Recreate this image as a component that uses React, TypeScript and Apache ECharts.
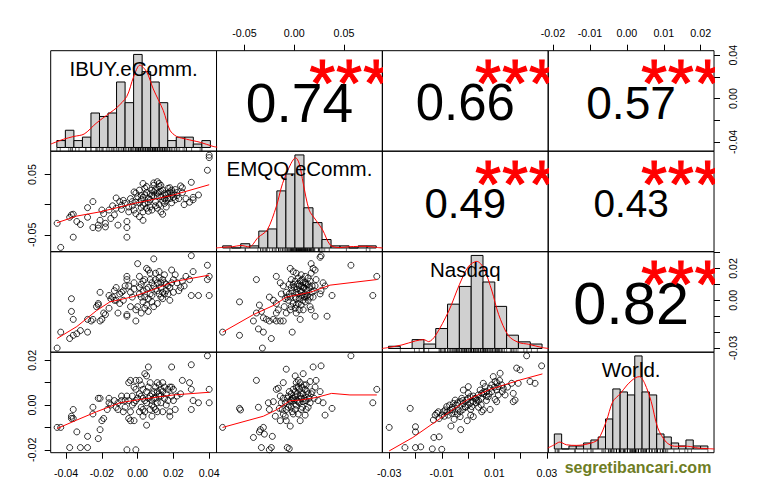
import React, { useEffect, useRef } from 'react';
import * as echarts from 'echarts';

const FONT = "'Liberation Sans', Arial, Helvetica, sans-serif";

// variable names (diagonal)
const varNames = ['IBUY.eComm.', 'EMQQ.eComm.', 'Nasdaq', 'World.'];

// axis extents of each variable (data range + 4%)
const rangeIBUY = [-0.0486, 0.0441];
const rangeEMQQ = [-0.0781, 0.0886];
const rangeNasdaq = [-0.0326, 0.0305];
const rangeWorld = [-0.0213, 0.0236];

// tick positions
const ticksIBUY = [-0.04, -0.02, 0, 0.02, 0.04];
const ticksEMQQ = [-0.05, 0, 0.05];
const ticksNasdaq = [-0.03, -0.02, -0.01, 0, 0.01, 0.02, 0.03];
const ticksWorld = [-0.02, -0.01, 0, 0.01, 0.02];

// tick labels shown on the outer axes
const labelsBottomIBUY = [-0.04, -0.02, 0, 0.02, 0.04];
const labelsBottomNasdaq = [-0.03, -0.01, 0.01, 0.03];
const labelsTopEMQQ = [-0.05, 0, 0.05];
const labelsTopWorld = [-0.02, -0.01, 0, 0.01, 0.02];
const labelsLeftEMQQ = [-0.05, 0.05];
const labelsLeftWorld = [-0.02, 0, 0.02];
const labelsRightIBUY = [-0.04, 0, 0.04];
const labelsRightNasdaq = [-0.03, 0, 0.02];

// histograms: first break, bin width, counts
const histStartIBUY = -0.045, histWidthIBUY = 0.005;
const histIBUY = [2, 5, 2, 3, 10, 9, 10, 19, 13, 27, 22, 19, 13, 2, 3, 3, 1, 2];
const histStartEMQQ = -0.08, histWidthEMQQ = 0.01;
const histEMQQ = [1, 0, 2, 1, 8, 9, 27, 35, 44, 19, 12, 4, 1, 1, 0, 1, 1];
const histStartNasdaq = -0.035, histWidthNasdaq = 0.005;
const histNasdaq = [1, 0, 4, 2, 9, 20, 28, 42, 30, 19, 6, 3, 2];
const histStartWorld = -0.02, histWidthWorld = 0.002;
const histWorld = [5, 0, 1, 1, 2, 3, 4, 10, 20, 19, 18, 31, 19, 18, 5, 4, 2, 1, 3, 1, 1];

// density curves (in histogram count units)
const densIBUY = [[-0.0485, 1.0], [-0.041, 2.4], [-0.035, 3.2], [-0.029, 3.9], [-0.022, 7.0], [-0.014, 10.0], [-0.01, 11.5], [-0.004, 14.8], [0.0, 20.5], [0.0037, 23.9], [0.0077, 21.9], [0.0115, 17.0], [0.0174, 10.7], [0.0213, 5.0], [0.0252, 3.2], [0.031, 2.4], [0.039, 1.5], [0.0466, 0.3], [0.049, 0.1]];
const densEMQQ = [[-0.0875, 0], [-0.08, 0.3], [-0.069, 0.6], [-0.0598, 1.2], [-0.0506, 0.5], [-0.0407, 5], [-0.0307, 8.5], [-0.0207, 19.5], [-0.0137, 30.5], [-0.0044, 39.9], [0.0007, 42.7], [0.0048, 39.9], [0.0092, 30.5], [0.0158, 17.9], [0.0233, 13.1], [0.0307, 8.5], [0.0391, 1.4], [0.0491, 0.2], [0.0602, 0.6], [0.0787, 0.8], [0.089, 0.3], [0.0972, 0]];
const densNasdaq = [[-0.0377, 0], [-0.035, 0.45], [-0.0293, 1.6], [-0.0236, 3.4], [-0.0201, 4.0], [-0.018, 3.1], [-0.0152, 5.7], [-0.0095, 16.9], [-0.005, 28.8], [-0.0011, 37.1], [0.0024, 39.3], [0.0053, 36.3], [0.0088, 25.9], [0.0116, 15.4], [0.0158, 5.7], [0.0201, 2.7], [0.0243, 1.9], [0.0299, 0.45], [0.0327, 0]];
const densWorld = [[-0.0218, 0.3], [-0.02, 1.4], [-0.0185, 2.3], [-0.0167, 1.4], [-0.014, 1.2], [-0.0108, 1.7], [-0.0081, 3.1], [-0.0058, 9.2], [-0.004, 15.8], [-0.0019, 18.5], [-0.0001, 21.3], [0.0021, 23.7], [0.0033, 24.1], [0.0047, 21.9], [0.0065, 15.8], [0.0083, 7.0], [0.0106, 2.3], [0.0129, 0.9], [0.0165, 0.9], [0.0193, 0.3], [0.022, 0.1], [0.0238, 0]];

// correlations and significance
const corrValues = [0.74, 0.66, 0.57, 0.49, 0.43, 0.82];
const corrStars = ['***', '***', '***', '***', '***', '***'];

// scatter panels [x, y]
const ibuyEmqq = [[0.040,0.082],[0.040,0.078],[0.039,0.057],[0.030,0.037],[0.024,0.031],[0.025,0.028],[0.034,0.016],[0.031,0.012],[0.029,0.004],[0.031,0.008],
[-0.045,-0.031],[-0.043,-0.071],[-0.036,-0.054],[-0.034,-0.028],[-0.032,-0.033],[-0.038,-0.021],[-0.037,-0.017],[-0.036,-0.016],[-0.028,-0.021],[-0.028,-0.005],[-0.025,0.005],[-0.025,-0.038],[-0.022,-0.039],[-0.022,-0.034],[-0.021,-0.026],[-0.020,-0.009],[-0.019,-0.015],[-0.018,-0.031],[-0.018,-0.037],[-0.016,-0.009],[-0.015,-0.023],[-0.013,-0.017],[-0.012,0.011],[-0.011,-0.034],[-0.010,0.005],[-0.009,-0.001],[-0.008,0.007],[-0.006,-0.038],[-0.006,-0.054],[-0.006,-0.028],[-0.005,-0.004],
[-0.002,0.021],[-0.001,0.019],[0.000,0.013],[0.001,0.024],[0.002,0.008],[0.003,-0.001],[0.004,0.016],[0.005,0.030],[0.006,0.010],[0.007,-0.004],[0.008,0.024],[0.009,0.032],[0.010,0.005],[0.011,0.019],[0.012,0.030],[0.013,0.013],[0.013,0.032],[0.014,0.024],[0.015,0.002],[0.016,0.016],[0.017,0.027],[0.018,0.021],[0.019,0.024],[0.020,0.019],[-0.002,-0.009],[-0.001,-0.015],[0.001,-0.020],[0.003,-0.012],[0.005,-0.006],[0.008,-0.009],[0.011,-0.006],[0.013,-0.012],[0.014,-0.016],[0.016,-0.004],[0.003,-0.026],[-0.003,0.005],[-0.004,0.010],[-0.005,-0.012],[0.011,0.038],[0.012,0.035],[0.009,0.036],[0.003,0.035],[0.020,0.012],[0.021,0.008],[0.022,0.020],[0.018,0.010],[0.006,0.004],[0.004,0.002],[0.009,0.014],[0.007,0.018],[0.022,0.015],[0.025,0.020],[0.027,0.010],[0.026,0.000],[0.016,0.007],[0.019,0.003],[0.010,0.025],[0.002,0.015],[-0.001,0.004],[0.012,0.021],[0.015,0.010],[0.017,0.019],
[0.001,0.003],[0.003,0.012],[0.005,0.020],[0.007,0.008],[0.009,0.021],[0.011,0.014],[0.013,0.022],[0.015,0.018],[0.017,0.011],[0.019,0.016],[0.002,-0.005],[0.006,-0.011],[0.010,-0.002],[0.014,0.006],[0.018,0.028],[0.021,0.025],[0.023,0.010],[-0.003,-0.002],[-0.007,0.002],[-0.009,-0.008],[-0.012,-0.006],[-0.014,-0.002],[0.004,0.027],[0.008,0.015],[0.012,0.000]];

const ibuyNasdaq = [[-0.045,-0.030],[-0.043,-0.020],[-0.038,-0.024],[-0.036,-0.022],[-0.034,-0.021],[-0.032,-0.019],[-0.028,-0.020],[-0.037,0.001],[-0.037,-0.007],[-0.036,-0.012],[-0.028,-0.012],[-0.026,-0.013],[-0.022,-0.002],[-0.022,-0.003],[-0.023,-0.004],[-0.025,-0.012],[-0.021,-0.013],[-0.020,-0.012],[-0.019,-0.008],[-0.018,-0.009],[-0.021,0.005],
[-0.016,0.003],[-0.015,0.001],[-0.014,0.002],[-0.013,0.000],[-0.012,0.000],[-0.010,0.004],[-0.009,0.005],[-0.008,0.000],[-0.007,0.009],[-0.006,0.015],[-0.006,0.013],[-0.005,0.009],[-0.006,-0.009],[-0.006,-0.010],[-0.001,-0.013],[-0.001,-0.006],[0.000,-0.004],[0.000,0.023],[0.001,0.004],[0.003,0.006],[0.004,0.013],[0.005,0.020],[0.006,0.019],[0.007,0.017],[0.009,0.026],[0.010,0.017],[0.011,0.011],[0.012,0.004],[0.013,0.002],[0.013,0.008],[0.014,0.013],[0.015,0.011],[0.016,0.006],[0.017,0.004],[0.018,0.000],[0.019,0.019],[0.020,0.013],[0.022,0.011],[0.024,0.008],[0.025,0.012],[0.027,0.015],[0.029,0.013],[0.030,0.028],[0.031,0.018],[0.030,0.003],[0.034,0.003],[0.039,0.022],[0.040,0.015],[0.040,0.003],[0.039,0.013],
[0.002,0.010],[0.004,0.002],[0.006,0.008],[0.008,0.011],[0.008,0.003],[0.010,0.007],[0.011,-0.002],[0.012,0.014],[0.014,0.005],[0.016,0.010],[0.003,-0.001],[0.005,-0.003],[-0.002,0.007],[-0.003,0.002],[0.001,0.015],[0.007,0.013],[0.009,-0.004],[0.015,0.016],[0.018,0.008],[0.020,0.005],[-0.004,-0.004],[0.002,-0.008],[0.006,-0.007],[-0.011,-0.008],[-0.013,0.006],[-0.016,-0.005],
[0.001,0.008],[0.003,0.012],[0.005,0.007],[0.007,0.004],[0.009,0.009],[0.011,0.006],[0.013,0.011],[0.015,0.004],[0.017,0.009],[0.019,0.011],[0.002,0.002],[0.004,-0.005],[0.006,0.001],[0.008,-0.001],[0.010,0.013],[0.012,0.018],[0.014,0.001],[-0.002,0.011],[-0.004,0.005],[-0.008,0.006],[-0.010,-0.002],[-0.012,0.008],[0.021,0.016],[0.023,0.006],[0.026,0.009]];

const emqqNasdaq = [[-0.072,-0.020],[-0.055,-0.001],[-0.055,-0.022],[-0.038,0.013],[-0.041,-0.013],[-0.036,-0.018],[-0.031,-0.020],[-0.023,-0.024],[-0.032,-0.030],[-0.035,-0.003],[-0.033,-0.007],[-0.038,-0.008],[-0.031,-0.011],[-0.028,-0.012],[-0.025,-0.013],[-0.021,-0.012],[-0.018,-0.013],[-0.014,-0.013],[-0.011,-0.013],[-0.018,-0.008],[-0.016,-0.006],[-0.008,-0.008],[-0.006,0.000],[-0.004,0.002],[-0.003,-0.004],[-0.001,-0.002],[0.001,0.002],[0.002,0.005],[0.004,0.004],[0.006,0.006],[0.007,0.009],[0.009,0.011],[0.011,0.004],[0.012,0.002],[0.014,0.000],[0.016,-0.004],[0.017,-0.006],[0.019,0.002],[0.021,0.009],[0.022,0.013],[0.026,0.004],[0.027,0.006],[0.029,0.011],[0.031,0.009],[0.017,0.023],[0.019,0.020],[0.021,0.019],[0.026,0.027],[0.027,0.028],[0.017,0.017],[-0.004,0.020],[-0.001,0.018],[0.002,0.017],[0.007,0.016],[0.011,0.015],[0.014,0.014],[-0.018,0.015],[-0.014,0.011],[-0.011,0.009],[-0.008,0.005],[-0.002,-0.020],[0.002,-0.008],[0.006,-0.012],[0.009,-0.006],[0.021,-0.010],[0.033,-0.010],[0.038,0.003],[0.057,0.022],[0.079,0.003],[0.083,0.015],[-0.025,0.002],[-0.021,0.000],[-0.018,-0.002],
[0.000,0.008],[0.003,0.010],[0.005,0.001],[0.008,0.003],[0.010,0.008],[0.013,0.006],[0.004,-0.002],[-0.002,0.006],[0.006,0.012],[0.012,0.010],[0.001,-0.005],[-0.005,0.010],[0.015,0.008],[0.018,0.005],[0.009,0.000],[-0.003,0.013],[0.002,0.001],[0.007,-0.003],[0.011,-0.001],[0.016,0.012],
[-0.001,0.010],[0.001,0.012],[0.003,0.007],[0.005,0.009],[0.007,0.005],[0.009,0.008],[0.011,0.011],[0.013,0.003],[-0.003,0.008],[-0.005,0.004],[-0.007,0.002],[-0.009,0.001],[0.004,0.014],[0.008,0.013],[0.010,0.002],[0.012,0.007],[0.014,0.010],[0.016,0.002],[0.018,0.009],[0.020,0.006],[0.002,-0.003],[-0.004,-0.006],[-0.010,-0.004],[-0.013,0.004],[0.005,-0.006]];

const ibuyWorld = [[-0.045,-0.010],[-0.043,-0.010],[-0.038,-0.019],[-0.032,-0.019],[-0.028,-0.019],[-0.006,-0.020],[-0.001,-0.020],[-0.037,-0.005],[-0.037,-0.006],[-0.036,-0.006],[-0.036,-0.002],[-0.034,-0.012],[-0.028,-0.014],[-0.025,-0.001],[-0.025,-0.004],[-0.022,0.003],[-0.021,0.003],[-0.021,-0.011],[-0.022,-0.015],
[-0.020,-0.007],[-0.019,-0.006],[-0.017,-0.002],[-0.016,0.001],[-0.016,0.003],[-0.013,0.002],[-0.012,-0.001],[-0.011,-0.002],[-0.009,0.002],[-0.007,0.002],[-0.006,0.004],[-0.005,-0.006],[-0.004,-0.003],[-0.002,0.001],[-0.002,-0.007],[-0.005,0.010],[-0.004,0.011],[-0.002,0.008],[-0.001,0.007],[-0.001,0.011],[0.001,0.011],[0.002,0.009],[0.003,0.007],[0.004,0.014],[0.005,0.013],[0.006,0.017],[0.007,0.010],[0.008,0.005],[0.009,0.006],[0.010,0.008],[0.011,0.010],[0.012,0.004],[0.012,0.005],[0.013,0.007],[0.014,0.006],[0.015,0.003],[0.016,0.005],[0.017,0.007],[0.018,0.008],[0.019,0.008],[0.020,0.007],[0.021,-0.002],[0.018,-0.003],[0.018,-0.005],[0.005,-0.009],[0.001,-0.003],[0.003,-0.005],[0.009,-0.001],[0.011,0.001],[0.025,0.011],[0.024,0.005],[0.019,0.017],[0.030,0.018],[0.029,0.010],[0.030,0.007],[0.031,0.002],[0.030,-0.002],[0.034,0.001],[0.039,0.022],[0.040,0.007],[0.040,0.001],[0.014,-0.003],[0.011,-0.003],[0.008,-0.005],[-0.004,-0.007],[-0.008,-0.003],[-0.015,0.000],
[0.002,0.004],[0.004,0.002],[0.006,0.003],[0.008,0.000],[0.010,0.003],[0.003,-0.002],[0.000,0.003],[0.005,0.006],[0.013,0.001],[0.016,0.000],[0.007,-0.002],[-0.003,0.004],
[0.001,0.005],[0.003,0.003],[0.005,0.001],[0.007,0.004],[0.009,0.003],[0.011,0.006],[0.013,0.004],[0.015,0.008],[0.017,0.002],[0.019,0.004],[0.002,-0.001],[0.004,-0.003],[0.006,0.008],[0.008,0.002],[0.010,-0.002],[0.012,0.009],[-0.001,0.002],[-0.003,0.000],[-0.005,0.002],[-0.007,-0.001],[-0.009,0.004],[-0.011,0.001],[0.014,0.010],[0.020,0.002],[0.022,0.004]];

const emqqWorld = [[-0.072,-0.010],[-0.055,-0.0015],[-0.054,-0.0022],[-0.038,0.011],[-0.041,-0.0145],[-0.034,-0.011],[-0.031,-0.010],[-0.035,-0.012],[-0.030,-0.013],[-0.033,-0.019],[-0.022,-0.014],[-0.023,-0.019],[-0.025,-0.020],[-0.007,-0.019],[-0.005,-0.0195],
[-0.036,-0.001],[-0.026,0.001],[-0.025,-0.002],[-0.018,0.007],[-0.016,0.0075],[-0.008,0.016],[-0.011,0.010],[-0.014,0.004],[-0.013,0.001],[-0.011,-0.004],[-0.009,-0.005],[-0.008,-0.002],[-0.006,-0.001],[-0.004,0.002],[-0.003,0.005],[-0.001,0.007],[0.001,0.013],[0.002,0.010],[0.004,0.008],[0.006,0.004],[0.007,0.005],[0.009,0.014],[0.011,0.007],[0.012,0.002],[0.014,-0.001],[0.016,0.001],[0.017,0.005],[0.019,0.017],[0.021,0.008],[0.022,0.011],[0.024,0.002],[0.026,0.006],[0.027,0.0175],[0.029,0.001],[0.031,-0.0045],[0.038,-0.0015],[0.057,0.022],[0.079,0.001],[0.083,0.007],[-0.014,-0.007],[-0.004,-0.0094],[0.006,-0.007],[-0.001,-0.004],[-0.008,-0.007],[0.002,0.000],[-0.011,0.003],[-0.015,-0.0015],[-0.021,0.0015],[-0.019,-0.005],[0.007,-0.002],[0.011,-0.0045],[0.016,0.0105],[0.001,0.004],[0.004,0.0015],[0.009,0.0015],[0.014,0.005],
[0.000,0.002],[0.003,0.005],[0.005,0.001],[-0.002,0.003],[0.008,0.008],[0.010,0.003],[-0.005,0.006],[0.012,0.009],[0.004,-0.004],[-0.003,-0.001],
[-0.001,0.003],[0.001,0.006],[0.003,0.002],[0.005,0.007],[0.007,0.003],[0.009,0.005],[0.011,0.002],[0.013,0.006],[-0.003,0.002],[-0.005,0.000],[-0.007,0.003],[-0.009,0.001],[0.002,0.008],[0.006,0.010],[0.010,0.009],[0.015,0.003],[0.018,0.006],[0.020,0.003],[-0.002,-0.003],[0.001,-0.002],[0.004,0.011],[0.008,-0.001],[-0.012,-0.002],[0.012,-0.002],[-0.006,0.004]];

const nasdaqWorld = [[-0.030,-0.010],[-0.022,-0.0015],[-0.020,-0.0097],[-0.020,-0.012],[-0.024,-0.019],[-0.020,-0.019],[-0.018,-0.0187],[-0.0136,-0.0196],[-0.010,-0.0198],[-0.013,-0.0145],[-0.011,-0.0142],[-0.0065,-0.0094],[-0.0028,-0.011],
[-0.0132,-0.0067],[-0.0125,-0.0045],[-0.0119,-0.0037],[-0.0113,-0.003],[-0.010,-0.0045],[-0.0094,-0.003],[-0.0087,-0.0022],[-0.0081,-0.0007],[-0.0075,-0.0045],[-0.0068,-0.0022],[-0.0062,-0.0037],[-0.0056,0.0007],[-0.0049,0.0022],[-0.0043,0.000],[-0.0037,-0.0022],[-0.003,0.0015],[-0.0024,0.003],[-0.0018,0.0007],[-0.0011,-0.0007],[-0.0005,0.0022],[0.0001,0.0052],[0.0008,0.0037],[0.0014,-0.0007],[0.002,0.0015],[0.0027,0.003],[0.0033,0.0022],[0.0039,0.0045],[0.0046,0.0067],[0.0052,0.0052],[0.0058,0.0097],[0.0065,0.0082],[0.0071,0.006],[0.0077,0.0037],[0.0084,0.0075],[0.009,0.009],[0.0096,0.0127],[0.0103,0.0105],[0.0109,0.0067],[0.0115,0.0082],[0.0122,0.0142],[0.0128,0.009],[0.0134,0.0075],[0.0141,0.0045],[0.0103,0.0025],[0.0109,0.0015],[0.0115,0.0045],[0.0052,-0.003],[0.0058,-0.0022],[0.0084,-0.002],[0.001,-0.0045],[0.002,-0.0052],[-0.0003,-0.007],[0.0172,0.0052],[0.0179,0.0022],[0.0166,0.0097],[0.0185,0.0165],[0.0198,0.0157],[0.0223,0.022],[0.0236,0.0105],[0.0255,0.0097],[0.028,0.0175],[0.0191,0.0097],[0.0172,0.0015],[-0.0018,0.0067],[0.0001,0.0082],[-0.003,-0.0052],[-0.0053,-0.0064],
[0.000,0.000],[-0.002,-0.002],[0.003,0.001],[0.005,0.003],[0.007,0.002],[-0.004,-0.004],[0.001,-0.002],[0.006,0.005],[-0.006,-0.001],[0.004,-0.001],
[-0.008,-0.003],[-0.006,-0.002],[-0.004,0.001],[-0.002,0.002],[0.000,0.003],[0.002,0.004],[0.004,0.002],[0.006,0.006],[0.008,0.005],[0.010,0.008],[-0.009,-0.005],[-0.005,-0.003],[-0.001,-0.001],[0.003,0.003],[0.007,0.004],[0.009,0.006],[0.011,0.010],[0.013,0.006],[-0.007,0.000],[-0.003,-0.003],[0.001,0.001],[0.005,0.000],[0.012,0.011],[0.015,0.008],[-0.011,-0.006]];

// smoothed (lowess) lines
const lowIbuyEmqq = [[-0.045,-0.030],[-0.034,-0.019],[-0.021,-0.012],[-0.010,-0.004],[-0.002,0.002],[0.011,0.010],[0.020,0.016],[0.040,0.033]];
const lowIbuyNasdaq = [[-0.045,-0.024],[-0.034,-0.0165],[-0.023,-0.0065],[-0.0155,-0.001],[-0.0024,0.0023],[0.0106,0.0075],[0.020,0.0117],[0.040,0.0158]];
const lowEmqqNasdaq = [[-0.072,-0.020],[-0.041,-0.009],[-0.020,-0.003],[-0.008,0.002],[0.000,0.003],[0.016,0.005],[0.036,0.0095],[0.083,0.013]];
const lowIbuyWorld = [[-0.045,-0.0105],[-0.034,-0.0067],[-0.023,-0.003],[-0.0099,0.001],[0.0013,0.0025],[0.020,0.0045],[0.040,0.0057]];
const lowEmqqWorld = [[-0.072,-0.010],[-0.031,-0.005],[-0.018,-0.0022],[-0.0044,0.0019],[0.0057,0.0022],[0.0225,0.0034],[0.0376,0.0052],[0.056,0.0045],[0.083,0.0045]];
const lowNasdaqWorld = [[-0.030,-0.0205],[-0.021,-0.0145],[-0.0106,-0.006],[-0.0005,0.0022],[0.0084,0.007],[0.0198,0.0112],[0.0283,0.0139]];

const watermark = 'segretibancari.com';

// ---------- layout ----------
const L = 50.7, T = 50.7, PW = 165.83, PH = 100.5;

function buildOption() {
  const ranges = [rangeIBUY, rangeEMQQ, rangeNasdaq, rangeWorld];
  const ticks = [ticksIBUY, ticksEMQQ, ticksNasdaq, ticksWorld];
  const hists = [
    { start: histStartIBUY, w: histWidthIBUY, counts: histIBUY, dens: densIBUY },
    { start: histStartEMQQ, w: histWidthEMQQ, counts: histEMQQ, dens: densEMQQ },
    { start: histStartNasdaq, w: histWidthNasdaq, counts: histNasdaq, dens: densNasdaq },
    { start: histStartWorld, w: histWidthWorld, counts: histWorld, dens: densWorld },
  ];
  const scatters: Record<string, any> = {
    '10': [ibuyEmqq, lowIbuyEmqq], '20': [ibuyNasdaq, lowIbuyNasdaq], '21': [emqqNasdaq, lowEmqqNasdaq],
    '30': [ibuyWorld, lowIbuyWorld], '31': [emqqWorld, lowEmqqWorld], '32': [nasdaqWorld, lowNasdaqWorld],
  };
  const rugs = [ibuyEmqq.map(p => p[0]), emqqNasdaq.map(p => p[0]), nasdaqWorld.map(p => p[0]), nasdaqWorld.map(p => p[1])];
  const corrCells = ['01', '02', '03', '12', '13', '23'];
  const bottomLabels: Record<number, number[]> = { 0: labelsBottomIBUY, 2: labelsBottomNasdaq };
  const leftLabels: Record<number, number[]> = { 1: labelsLeftEMQQ, 3: labelsLeftWorld };

  const grids: any[] = [], xAxes: any[] = [], yAxes: any[] = [], series: any[] = [], graphics: any[] = [];

  const hidden = (gridIndex: number, min: number, max: number) => ({ type: 'value', gridIndex, min, max, show: false, axisLine: { show: false, onZero: false }, axisTick: { show: false }, axisLabel: { show: false }, splitLine: { show: false } });
  const visible = (gridIndex: number, range: number[], tk: number[], labels: number[], position: string, rotate: number, margin: number) => ({
    type: 'value', gridIndex, min: range[0], max: range[1], position, show: true,
    axisLine: { show: false, onZero: false },
    axisTick: { show: true, inside: false, length: 6, customValues: tk, lineStyle: { color: '#000', width: 1 } },
    axisLabel: { show: true, customValues: labels, formatter: (v: number) => v.toFixed(2), color: '#000', fontSize: 10.7, fontFamily: FONT, margin, rotate },
    splitLine: { show: false },
  });

  for (let r = 0; r < 4; r++) {
    for (let c = 0; c < 4; c++) {
      const g = r * 4 + c;
      grids.push({ left: L + c * PW, top: T + r * PH, width: PW, height: PH, show: true, borderColor: '#000', borderWidth: 1, backgroundColor: 'transparent' });
      if (r === c) {
        const h = hists[r];
        const span = h.counts.length * h.w;
        const M = Math.max(...h.counts);
        const yMin = -0.04 * M;
        xAxes.push(hidden(g, h.start - 0.04 * span, h.start + span + 0.04 * span));
        yAxes.push(hidden(g, yMin, 1.04 * M));
        series.push({
          type: 'custom', xAxisIndex: g, yAxisIndex: g, clip: true,
          data: h.counts.map((n, i) => [h.start + i * h.w, h.start + (i + 1) * h.w, n]),
          renderItem: (params: any, api: any) => {
            const p0 = api.coord([api.value(0), api.value(2)]);
            const p1 = api.coord([api.value(1), 0]);
            return { type: 'rect', shape: { x: p0[0], y: p0[1], width: p1[0] - p0[0], height: p1[1] - p0[1] }, style: { fill: '#d0d0d0', stroke: '#000', lineWidth: 1 } };
          },
        });
        series.push({ type: 'line', xAxisIndex: g, yAxisIndex: g, data: h.dens, showSymbol: false, symbol: 'none', smooth: 0.3, clip: true, lineStyle: { color: '#ff0000', width: 1 }, z: 3 });
        series.push({
          type: 'custom', xAxisIndex: g, yAxisIndex: g, clip: false,
          data: rugs[r].map(v => [v, yMin]),
          renderItem: (params: any, api: any) => {
            const p = api.coord([api.value(0), api.value(1)]);
            return { type: 'line', shape: { x1: p[0], y1: p[1], x2: p[0], y2: p[1] - 3.4 }, style: { stroke: '#000', lineWidth: 0.6 } };
          },
        });
        graphics.push({ type: 'text', z: 100, x: L + c * PW + PW / 2, y: T + r * PH + PH * 0.167 + 0.8, style: { text: varNames[r], fontSize: 20.5, fontFamily: FONT, fill: '#000', align: 'center', verticalAlign: 'middle' } });
      } else if (r > c) {
        const showX = r === 3 && bottomLabels[c] !== undefined;
        const showY = c === 0 && leftLabels[r] !== undefined;
        xAxes.push(showX ? visible(g, ranges[c], ticks[c], bottomLabels[c], 'bottom', 0, 15) : hidden(g, ranges[c][0], ranges[c][1]));
        yAxes.push(showY ? visible(g, ranges[r], ticks[r], leftLabels[r], 'left', 90, 13) : hidden(g, ranges[r][0], ranges[r][1]));
        const [pts, low] = scatters[`${r}${c}`];
        series.push({ type: 'scatter', xAxisIndex: g, yAxisIndex: g, data: pts, symbol: 'circle', symbolSize: 6, itemStyle: { color: 'rgba(0,0,0,0)', borderColor: '#000', borderWidth: 1 } });
        series.push({ type: 'line', xAxisIndex: g, yAxisIndex: g, data: low, showSymbol: false, symbol: 'none', clip: true, lineStyle: { color: '#ff0000', width: 1 }, z: 3 });
      } else {
        xAxes.push(hidden(g, 0, 1));
        yAxes.push(hidden(g, 0, 1));
        const k = corrCells.indexOf(`${r}${c}`);
        const rv = corrValues[k];
        const txt = rv.toFixed(2);
        const stars = corrStars[k].split('');
        const base = 69;
        const starAdvance = base * 0.389;
        series.push({
          type: 'custom', xAxisIndex: g, yAxisIndex: g, clip: true, data: [[0.5, 0.5]],
          renderItem: (params: any, api: any) => {
            const cpt = api.coord([0.5, 0.5]);
            const spt = api.coord([0.8, 0.8]);
            const children: any[] = [
              { type: 'text', x: cpt[0], y: cpt[1] + 1.8, style: { text: txt, fontSize: base * (Math.abs(rv) + 0.3) / 1.3, fontFamily: FONT, fill: '#000', align: 'center', verticalAlign: 'middle' } },
            ];
            stars.forEach((s, i) => {
              children.push({ type: 'text', x: spt[0] + (i - (stars.length - 1) / 2) * starAdvance, y: spt[1] + 12.5, style: { text: s, fontSize: 66, fontFamily: FONT, fill: '#ff0000', stroke: '#ff0000', lineWidth: 1.2, align: 'center', verticalAlign: 'middle' } });
            });
            return { type: 'group', children };
          },
        });
      }
    }
  }
  // extra outer axes on upper panels
  xAxes.push(visible(1, rangeEMQQ, ticksEMQQ, labelsTopEMQQ, 'top', 0, 12.5));
  xAxes.push(visible(3, rangeWorld, ticksWorld, labelsTopWorld, 'top', 0, 12.5));
  yAxes.push(visible(3, rangeIBUY, ticksIBUY, labelsRightIBUY, 'right', 90, 13));
  yAxes.push(visible(11, rangeNasdaq, ticksNasdaq, labelsRightNasdaq, 'right', 90, 13));

  graphics.push({ type: 'text', z: 100, x: 638, y: 467.5, style: { text: watermark, fontSize: 16, fontWeight: 'bold', fontFamily: FONT, fill: '#6e7d24', align: 'center', verticalAlign: 'middle' } });

  return {
    animation: false,
    backgroundColor: '#ffffff',
    grid: grids,
    xAxis: xAxes,
    yAxis: yAxes,
    series,
    graphic: graphics,
  };
}

export default function App() {
  const ref = useRef<HTMLDivElement>(null);
  useEffect(() => {
    if (!ref.current) return;
    const chart = echarts.init(ref.current, null, { renderer: 'svg' });
    chart.setOption(buildOption() as any);
    return () => chart.dispose();
  }, []);
  return <div ref={ref} style={{ position: 'absolute', left: 0, top: 0, width: 765, height: 504, background: '#fff' }} />;
}
